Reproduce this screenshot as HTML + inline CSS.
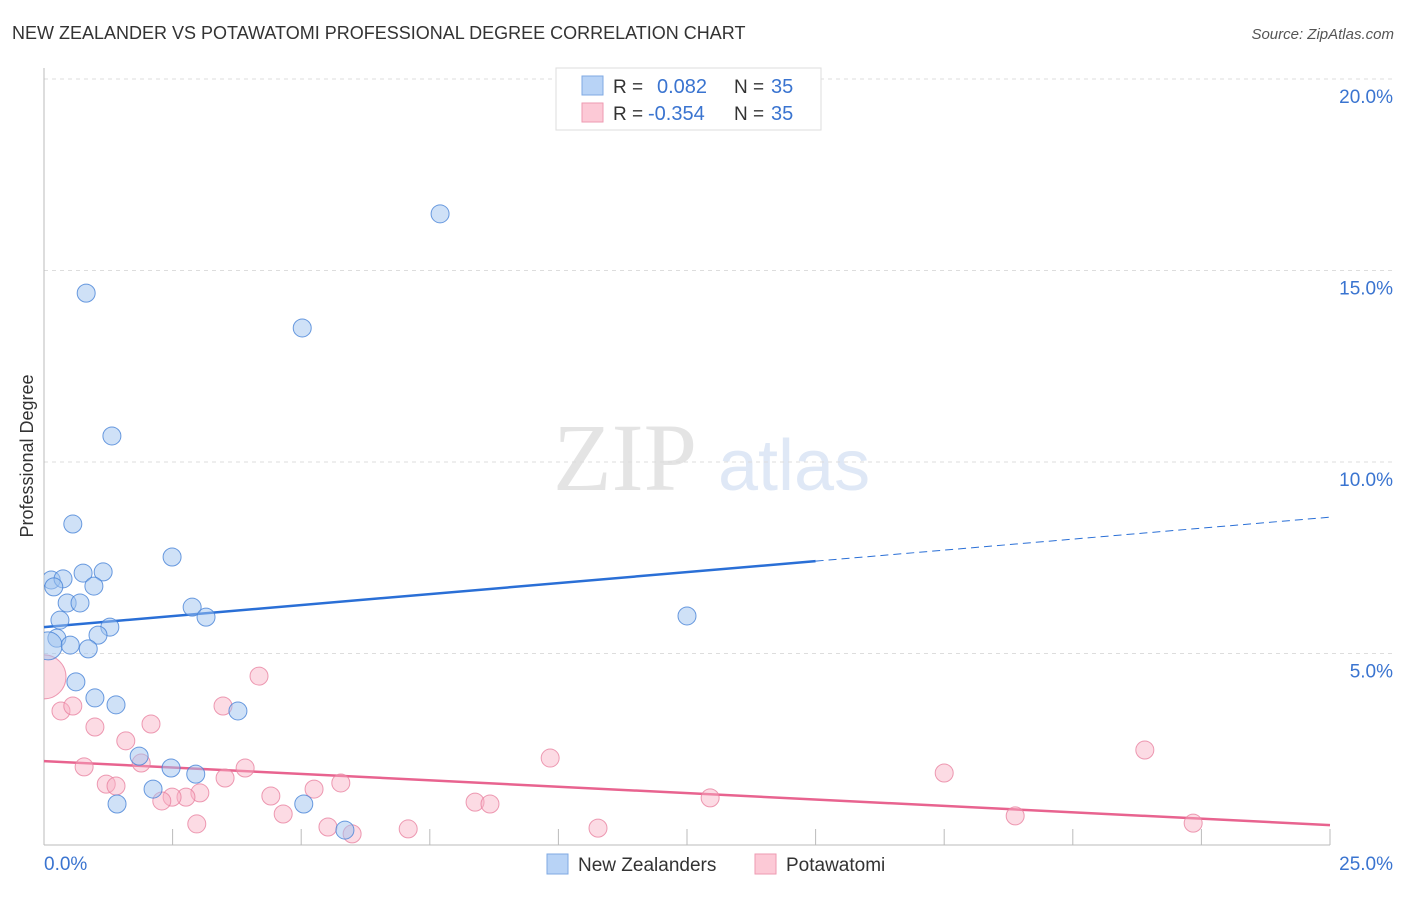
<!DOCTYPE html>
<html><head><meta charset="utf-8"><style>
body{margin:0;background:#fff;width:1406px;height:892px;overflow:hidden;font-family:"Liberation Sans",sans-serif;}
</style></head><body>
<svg width="1406" height="892" xmlns="http://www.w3.org/2000/svg">
<defs><clipPath id="plot"><rect x="44" y="60" width="1360" height="790"/></clipPath></defs>
<text x="12" y="39" font-size="18" fill="#333">NEW ZEALANDER VS POTAWATOMI PROFESSIONAL DEGREE CORRELATION CHART</text>
<text x="1394" y="39" font-size="15" fill="#555" font-style="italic" text-anchor="end">Source: ZipAtlas.com</text>
<g>
<text x="553" y="490" font-family="Liberation Serif,serif" font-size="96" fill="#e4e4e4">ZIP</text>
<text x="718" y="490" font-size="72" fill="#dfe8f6">atlas</text>
</g>
<g id="grid"></g><g id="axes"></g><g id="lines"></g><g id="pts" clip-path="url(#plot)"></g>
<text x="33" y="456" font-size="18" fill="#333" transform="rotate(-90 33 456)" text-anchor="middle">Professional Degree</text>
<g>
<rect x="556" y="68" width="265" height="62" fill="#fff" stroke="#ddd"/>
<rect x="582" y="76" width="21" height="19" fill="#b8d3f6" stroke="#7fa9e3"/>
<rect x="582" y="103" width="21" height="19" fill="#fcc9d6" stroke="#ee9ab1"/>
<text x="613" y="93" font-size="19" fill="#333">R = </text><text x="657" y="93" font-size="20" fill="#3a74d0">0.082</text>
<text x="734" y="93" font-size="19" fill="#333">N = </text><text x="771" y="93" font-size="20" fill="#3a74d0">35</text>
<text x="613" y="120" font-size="19" fill="#333">R = </text><text x="648" y="120" font-size="20" fill="#3a74d0">-0.354</text>
<text x="734" y="120" font-size="19" fill="#333">N = </text><text x="771" y="120" font-size="20" fill="#3a74d0">35</text>
</g>
<g>
<rect x="547" y="854" width="21" height="20" fill="#b8d3f6" stroke="#7fa9e3"/>
<text x="578" y="871" font-size="19" fill="#333">New Zealanders</text>
<rect x="755" y="854" width="21" height="20" fill="#fcc9d6" stroke="#ee9ab1"/>
<text x="786" y="871" font-size="19" fill="#333">Potawatomi</text>
</g>
</svg>
<script>
const blueX=[0.82,1.32,5.02,7.70,0.56,2.49,0.14,0.37,0.19,0.76,1.15,0.97,0.45,0.70,2.88,3.15,0.31,1.28,1.05,0.25,0.08,0.51,0.86,0.62,0.99,1.40,3.77,12.50,1.85,2.47,2.95,2.12,1.42,5.05,5.85];
const blueY=[14.41,10.68,13.50,16.48,8.38,7.52,6.92,6.95,6.74,7.10,7.13,6.76,6.32,6.32,6.21,5.95,5.87,5.69,5.48,5.40,5.20,5.22,5.12,4.26,3.84,3.66,3.50,5.98,2.32,2.01,1.85,1.46,1.07,1.07,0.39];
const pinkX=[0,0.33,0.56,0.99,4.18,3.48,2.08,1.59,0.78,1.89,3.91,3.52,1.21,1.40,3.03,2.76,2.49,2.29,4.41,5.25,5.77,8.38,8.67,9.84,12.95,17.50,21.40,2.97,4.65,5.52,5.99,7.08,10.77,18.88,22.34];
const pinkY=[4.39,3.50,3.63,3.08,4.41,3.63,3.16,2.72,2.04,2.14,2.01,1.75,1.59,1.54,1.36,1.25,1.25,1.15,1.28,1.46,1.62,1.12,1.07,2.27,1.23,1.88,2.48,0.55,0.81,0.47,0.29,0.42,0.44,0.76,0.57];
const yTicks=[5,10,15,20];
const yTickLabels=["5.0%","10.0%","15.0%","20.0%"];
const blueTrend=[5.69,8.56];
const pinkTrend=[2.19,0.52];
const NS="http://www.w3.org/2000/svg";
const sx=v=>44+v*51.44, sy=v=>845-v*38.3;
function mk(t,a,p){const e=document.createElementNS(NS,t);for(const k in a)e.setAttribute(k,a[k]);document.getElementById(p).appendChild(e);return e;}
yTicks.forEach((t,i)=>{
 const l=mk('line',{x1:44,x2:1394,y1:sy(t),y2:sy(t),stroke:'#ddd','stroke-dasharray':'4,4'},'grid');
 
 
 const tx=mk('text',{x:1393,y:sy(t)+24,'font-size':19,fill:'#3a74d0','text-anchor':'end'},'grid');tx.textContent=yTickLabels[i];
 
 
});
mk('line',{x1:44,x2:44,y1:68,y2:845,stroke:'#bbb'},'axes');
mk('line',{x1:44,x2:1330,y1:845,y2:845,stroke:'#bbb'},'axes');
for(let i=1;i<=10;i++){const x=sx(i*2.5);mk('line',{x1:x,x2:x,y1:829,y2:845,stroke:'#bbb'},'axes');}
const xl=mk('text',{x:44,y:870,'font-size':19,fill:'#3a74d0'},'axes');xl.textContent='0.0%';


const xr=mk('text',{x:1393,y:870,'font-size':19,fill:'#3a74d0','text-anchor':'end'},'axes');xr.textContent='25.0%';


pinkX.forEach((x,i)=>{const c=mk('circle',{cx:sx(x),cy:sy(pinkY[i]),r:i==0?22:9,fill:'rgba(248,175,196,0.45)',stroke:'rgba(232,130,160,0.8)','stroke-width':1},'pts');
 
 });
blueX.forEach((x,i)=>{const c=mk('circle',{cx:sx(x),cy:sy(blueY[i]),r:i==20?14:9,fill:'rgba(160,196,240,0.5)',stroke:'rgba(70,130,215,0.8)','stroke-width':1},'pts');
 
 });
const bMid=blueTrend[0]+(blueTrend[1]-blueTrend[0])*(15/25);
const b1=mk('line',{x1:sx(0),y1:sy(blueTrend[0]),x2:sx(15),y2:sy(bMid),stroke:'#2a6fd6','stroke-width':2.5},'lines');


const b2=mk('line',{x1:sx(15),y1:sy(bMid),x2:sx(25),y2:sy(blueTrend[1]),stroke:'#2a6fd6','stroke-width':1,'stroke-dasharray':'8,5'},'lines');


const p1=mk('line',{x1:sx(0),y1:sy(pinkTrend[0]),x2:sx(25),y2:sy(pinkTrend[1]),stroke:'#e8638f','stroke-width':2.5},'lines');


</script>
</body></html>
